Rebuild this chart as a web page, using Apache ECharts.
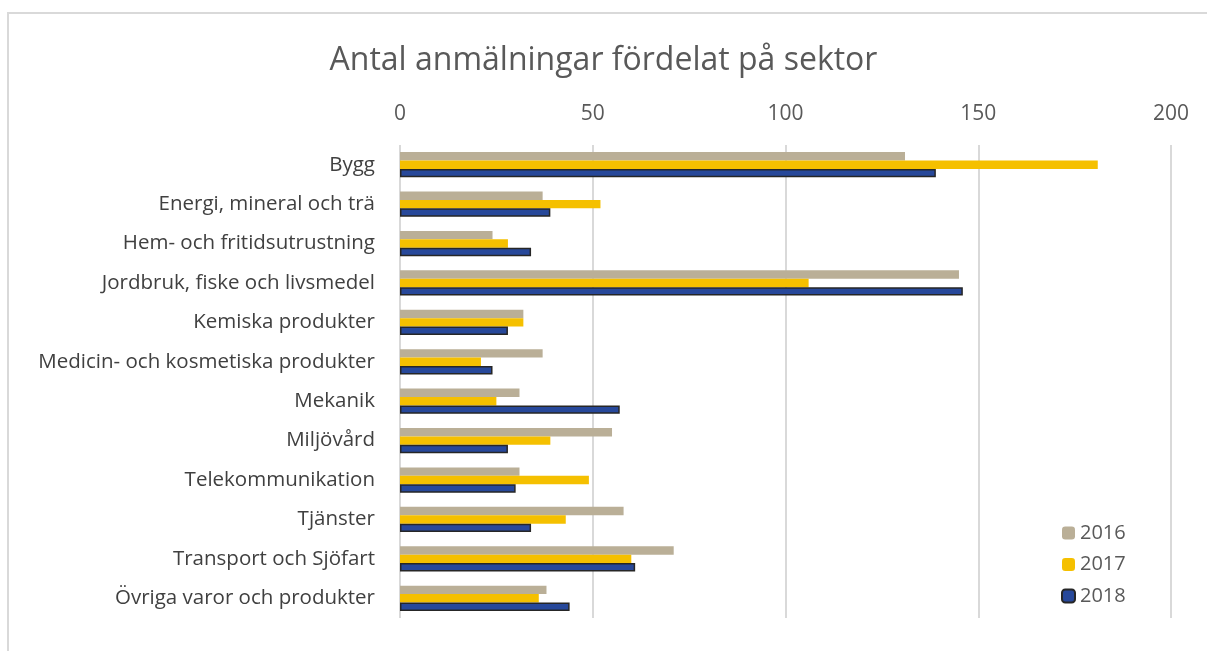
<!DOCTYPE html>
<html>
<head>
<meta charset="utf-8">
<script src="https://cdn.jsdelivr.net/npm/echarts@6/dist/echarts.min.js"></script>
<style>
html,body{margin:0;padding:0;background:#fff;}
#chart{width:1207px;height:651px;}
</style>
</head>
<body>
<div id="chart"></div>
<script>
const categories = ["Bygg","Energi, mineral och trä","Hem- och fritidsutrustning","Jordbruk, fiske och livsmedel","Kemiska produkter","Medicin- och kosmetiska produkter","Mekanik","Miljövård","Telekommunikation","Tjänster","Transport och Sjöfart","Övriga varor och produkter"];
const seriesNames = ["2016","2017","2018"];
const values2016 = [131,37,24,145,32,37,31,55,31,58,71,38];
const values2017 = [181,52,28,106,32,21,25,39,49,43,60,36];
const values2018 = [139,39,34,146,28,24,57,28,30,34,61,44];
const xTicks = [0,50,100,150,200];

const FONT = "Open Sans";
const chart = echarts.init(document.getElementById('chart'), null, {renderer:'canvas'});
const colors = ['#BAAF97','#F5C000','#27489A'];
const data = [values2016, values2017, values2018];

chart.setOption({
  backgroundColor:'#fff',
  animation:false,
  title:{
    text:'Antal anmälningar fördelat på sektor',
    left:'center', top:40,
    textStyle:{fontFamily:FONT, fontSize:32, fontWeight:'normal', color:'#595959'}
  },
  graphic:[{type:'rect', shape:{x:8,y:13,width:1220,height:660}, style:{fill:'none', stroke:'#d9d9d9', lineWidth:2}, silent:true}],
  legend:{
    orient:'vertical', left:1056, top:518,
    itemWidth:13, itemHeight:13, itemGap:11.5,
    textStyle:{fontFamily:FONT, fontSize:20, color:'#595959', lineHeight:20},
    data:seriesNames
  },
  grid:{left:400, right:36, top:145, bottom:33, containLabel:false},
  xAxis:{
    type:'value', position:'top', min:xTicks[0], max:xTicks[xTicks.length-1], interval:50,
    axisLine:{show:false}, axisTick:{show:false},
    splitLine:{show:true, lineStyle:{color:'#d9d9d9', width:2}},
    axisLabel:{fontFamily:FONT, fontSize:21, color:'#595959', margin:20}
  },
  yAxis:{
    type:'category', inverse:true, data:categories,
    axisLine:{show:false}, axisTick:{show:false},
    axisLabel:{fontFamily:FONT, fontSize:20.5, color:'#404040', margin:25}
  },
  series: seriesNames.map((n,i)=>({
    name:n, type:'bar', data:data[i],
    barGap:'0%', barCategoryGap:'36%',
    itemStyle: i===2 ? {color:colors[i], borderColor:'#262626', borderWidth:1.5} : {color:colors[i]}
  }))
});
</script>
</body>
</html>
